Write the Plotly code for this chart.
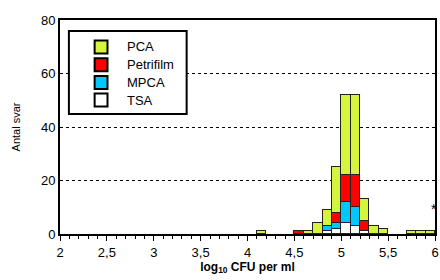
import plotly.graph_objects as go

bin_centers = [4.15, 4.55, 4.65, 4.75, 4.85, 4.95, 5.05, 5.15, 5.25, 5.35, 5.45, 5.75, 5.85, 5.95]
tsa =       [0, 0, 0, 0, 1, 2, 4, 3, 1, 0, 0, 0, 0, 0]
mpca =      [0, 0, 0, 0, 2, 2, 8, 7, 0, 0, 0, 0, 0, 0]
petrifilm = [0, 1, 0, 0, 0, 4, 10, 12, 4, 0, 0, 0, 0, 0]
pca =       [1, 0, 1, 4, 6, 17, 30, 30, 8, 3, 2, 1, 1, 1]

x_tickvals = [2, 2.5, 3, 3.5, 4, 4.5, 5, 5.5, 6]
x_ticktext = ["2", "2,5", "3", "3,5", "4", "4,5", "5", "5,5", "6"]
y_tickvals = [0, 20, 40, 60, 80]

series = [
    ("TSA", tsa, "#ffffff"),
    ("MPCA", mpca, "#00c8ff"),
    ("Petrifilm", petrifilm, "#ff0000"),
    ("PCA", pca, "#d4f53c"),
]

FONT = "Arial, Liberation Sans, sans-serif"
W, H = 440, 280
ML, MR, MT, MB = 60, 1, 20, 46
PW, PH = W - ML - MR, H - MT - MB

def px(x):
    return (x - ML) / PW

def py(y):
    return (H - MB - y) / PH

fig = go.Figure()
for name, vals, col in series:
    fig.add_trace(go.Bar(
        x=bin_centers, y=vals, name=name, width=0.1, showlegend=False,
        marker=dict(color=col, line=dict(color="#222222", width=1)),
    ))

fig.add_annotation(x=5.985, y=9.5, text="*", showarrow=False,
                   font=dict(size=14, color="black", family=FONT))

# legend (drawn manually for exact spacing)
fig.add_shape(type="rect", xref="paper", yref="paper",
              x0=px(69), x1=px(188), y0=py(114), y1=py(31),
              line=dict(color="black", width=2), fillcolor="white", layer="above")
legend_items = [(n, c) for n, _, c in reversed(series)]
for i, (name, col) in enumerate(legend_items):
    yc = 47 + i * 17.7
    fig.add_shape(type="rect", xref="paper", yref="paper",
                  x0=px(95), x1=px(108), y0=py(yc + 6.5), y1=py(yc - 6.5),
                  line=dict(color="black", width=2), fillcolor=col, layer="above")
    fig.add_annotation(xref="paper", yref="paper", x=px(126), y=py(yc),
                       text=name, showarrow=False, xanchor="left", yanchor="middle",
                       font=dict(size=13, color="black", family=FONT))

fig.update_layout(
    width=W, height=H,
    margin=dict(l=ML, r=MR, t=MT, b=MB),
    barmode="stack", bargap=0,
    plot_bgcolor="white", paper_bgcolor="white",
    font=dict(family=FONT, size=13, color="black"),
    showlegend=False,
    xaxis=dict(
        range=[2, 6], tickvals=x_tickvals, ticktext=x_ticktext,
        showline=True, linecolor="black", linewidth=2, mirror=True,
        ticks="outside", ticklen=5, tickcolor="black",
        minor=dict(dtick=0.1, ticks="outside", ticklen=3, tickcolor="black"),
        showgrid=False, zeroline=False, ticklabeloverflow="allow",
        title=dict(text="<b>log<sub>10</sub> CFU per ml</b>", font=dict(size=12, family=FONT), standoff=2),
        tickfont=dict(size=13),
    ),
    yaxis=dict(
        range=[0, 80], tickvals=y_tickvals,
        showline=True, linecolor="black", linewidth=2, mirror=True,
        ticks="",
        showgrid=True, gridcolor="black", griddash="dot", gridwidth=1,
        zeroline=False,
        title=dict(text="Antal svar", font=dict(size=11, family=FONT), standoff=18),
        tickfont=dict(size=13),
    ),
)
fig.write_html("out.html", config={"displayModeBar": False},
               post_script="document.body.style.margin='0';")
